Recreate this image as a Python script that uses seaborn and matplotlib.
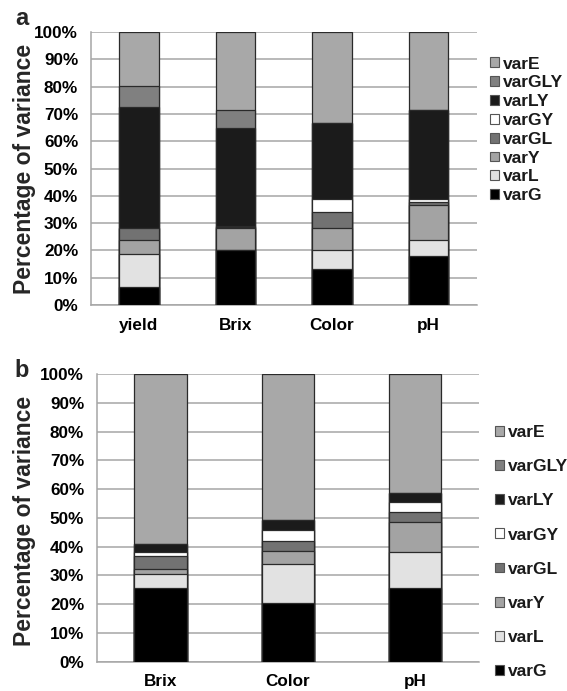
import numpy as np
import pandas as pd
import matplotlib
matplotlib.use("Agg")
import matplotlib.pyplot as plt
from matplotlib.patches import Patch
from matplotlib.ticker import FuncFormatter, FixedLocator
import seaborn as sns

sns.set_style("white")
plt.rcParams["font.family"] = ["Liberation Sans", "DejaVu Sans"]
plt.rcParams["font.weight"] = "bold"

# Variance components, stacked bottom -> top
components = ["varG", "varL", "varY", "varGL", "varGY", "varLY", "varGLY", "varE"]

# Panel a: traits
traits_a = ["yield", "Brix", "Color", "pH"]
varG_a   = [6.5, 20.1, 13.1, 17.9]
varL_a   = [12.2, 0.0, 7.0, 5.9]
varY_a   = [5.1, 8.0, 8.2, 12.7]
varGL_a  = [4.3, 0.3, 5.9, 1.4]
varGY_a  = [0.0, 0.4, 4.5, 0.8]
varLY_a  = [44.4, 36.1, 28.1, 32.7]
varGLY_a = [7.7, 6.6, 0.0, 0.0]
varE_a   = [19.8, 28.5, 33.2, 28.6]

# Panel b: traits
traits_b = ["Brix", "Color", "pH"]
varG_b   = [25.5, 20.5, 25.5]
varL_b   = [5.0, 13.3, 12.7]
varY_b   = [1.8, 4.8, 10.3]
varGL_b  = [4.4, 3.4, 3.4]
varGY_b  = [1.5, 3.8, 3.5]
varLY_b  = [2.7, 3.3, 3.1]
varGLY_b = [0.0, 0.0, 0.0]
varE_b   = [59.1, 50.9, 41.5]

fills = {
    "varG": "#000000",
    "varL": "#e2e2e2",
    "varY": "#a3a3a3",
    "varGL": "#727272",
    "varGY": "#ffffff",
    "varLY": "#1b1b1b",
    "varGLY": "#808080",
    "varE": "#a8a8a8",
}

GRID = "#a6a6a6"


def stacked_panel(ax, traits, series, width):
    df = pd.DataFrame(series, index=components, columns=traits).T
    cum = df.cumsum(axis=1)
    # draw cumulative totals from the top layer down so each layer shows its own slice
    for comp in components[::-1]:
        sns.barplot(x=traits, y=cum[comp].values, color=fills[comp],
                    saturation=1, width=width, edgecolor="#2a2a2a",
                    linewidth=0.9, ax=ax, zorder=3)
    n = len(traits)
    ax.set_xlim(-0.5, n - 0.5)
    ax.set_ylim(0, 100)
    ax.yaxis.set_major_locator(FixedLocator(np.arange(0, 101, 10)))
    ax.yaxis.set_major_formatter(FuncFormatter(lambda v, p: f"{int(v)}%"))
    ax.grid(axis="y", color=GRID, linewidth=1.1, zorder=0)
    ax.set_axisbelow(True)
    for s in ["top", "right"]:
        ax.spines[s].set_visible(False)
    for s in ["left", "bottom"]:
        ax.spines[s].set_color(GRID)
        ax.spines[s].set_linewidth(1.1)
    ax.xaxis.set_minor_locator(FixedLocator(np.arange(n + 1) - 0.5))
    ax.tick_params(axis="x", which="major", length=0, pad=9, labelsize=12.3,
                   colors="black")
    ax.tick_params(axis="x", which="minor", length=4.5, width=1.1, color=GRID,
                   direction="out")
    ax.tick_params(axis="y", length=4, width=1.1, color=GRID, direction="out",
                   pad=5, labelsize=12.3, labelcolor="black")
    for lab in ax.get_xticklabels() + ax.get_yticklabels():
        lab.set_fontweight("bold")
    ax.set_xlabel("")
    ax.set_ylabel("Percentage of variance", fontsize=16.5, fontweight="bold")


fig = plt.figure(figsize=(5.67, 6.91), dpi=100)
ax_a = fig.add_axes([0.160, 0.5586, 0.681, 0.3951])
ax_b = fig.add_axes([0.1705, 0.0424, 0.6743, 0.4164])

stacked_panel(ax_a, traits_a,
              [varG_a, varL_a, varY_a, varGL_a, varGY_a, varLY_a, varGLY_a, varE_a],
              width=0.41)
stacked_panel(ax_b, traits_b,
              [varG_b, varL_b, varY_b, varGL_b, varGY_b, varLY_b, varGLY_b, varE_b],
              width=0.41)
ax_a.yaxis.set_label_coords(-0.142, 0.5)
ax_b.yaxis.set_label_coords(-0.159, 0.49)

handles = [Patch(facecolor=fills[c], edgecolor="#555555", linewidth=0.8, label=c)
           for c in components[::-1]]
common = dict(frameon=False, loc="center left", borderaxespad=0, borderpad=0,
              handlelength=0.5, handleheight=0.5, handletextpad=0.25,
              prop={"weight": "bold", "size": 12.5}, labelcolor="#1a1a1a")
fig.legend(handles=handles, bbox_to_anchor=(0.864, 0.812), labelspacing=0.22,
           **common)
fig.legend(handles=handles, bbox_to_anchor=(0.873, 0.201), labelspacing=1.10,
           **common)

fig.text(0.027, 0.9638, "a", fontsize=17, fontweight="bold", va="baseline")
fig.text(0.026, 0.4544, "b", fontsize=17, fontweight="bold", va="baseline")

fig.savefig("out.png", dpi=100)
